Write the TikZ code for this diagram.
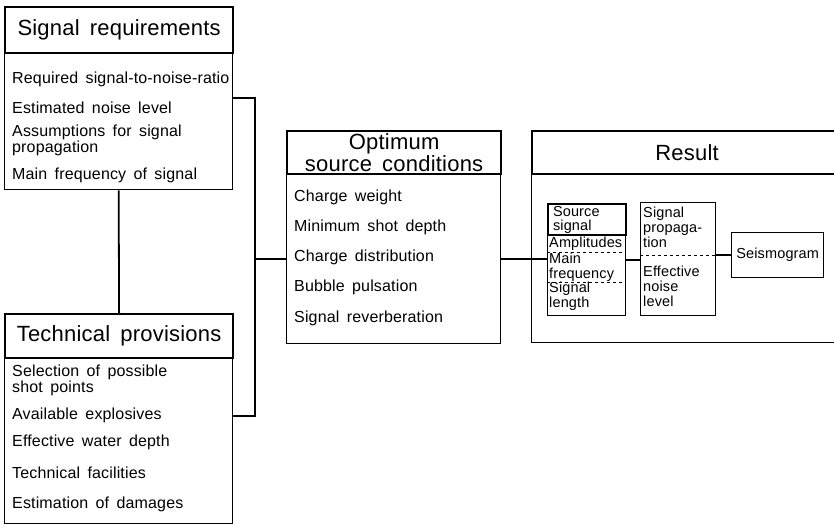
\documentclass[tikz,border=0pt]{standalone}
\usepackage{fontspec}
\setmainfont{Liberation Sans}[LetterSpace=1,WordSpace=1.6]
\usetikzlibrary{positioning}
\tikzset{
    head/.style={
           rectangle,
           draw=black, line width=2.2pt,
           inner sep=0pt,
           anchor=north west,
           align=center,
           font=\fontsize{22}{17}\selectfont,
           },
    panel/.style={
           rectangle,
           draw=black, line width=1.3pt,
           inner sep=0pt,
           anchor=north west,
           },
    entry/.style={
           anchor=west,
           inner sep=0pt,
           align=left,
           font=\fontsize{16}{15.5}\selectfont,},
    small/.style={
           anchor=west,
           inner sep=0pt,
           align=left,
           font=\fontsize{14.5}{15}\selectfont,},
    link/.style={
           line width=1.8pt,},
    sep/.style={
           dashed,
           line width=0.9pt,}
}
\begin{document}
\begin{tikzpicture}[x=1pt,y=-1pt]
\useasboundingbox (0,0) rectangle (834,525);
% SIGNAL REQUIREMENTS
\node[head, minimum width=228pt, minimum height=46pt] (REQHEAD) at (4,6) {Signal requirements};
\node[panel, minimum width=228pt, minimum height=137pt] (REQBODY) at (4,52) {};
\node[entry] (SNR) at (12,79) {Required signal-to-noise-ratio};
\node[entry] (NOISE) at (12,108) {Estimated noise level};
\node[entry] (ASSUME) at (12,140.5) {Assumptions for signal\\propagation};
\node[entry] (MAINFREQ) at (12,175) {Main frequency of signal};
% TECHNICAL PROVISIONS
\node[head, minimum width=228pt, minimum height=44pt] (TECHHEAD) at (4,313) {Technical provisions};
\node[panel, minimum width=228pt, minimum height=166pt] (TECHBODY) at (4,357) {};
\node[entry] (SHOTS) at (12,380.5) {Selection of possible\\shot points};
\node[entry] (EXPL) at (12,415) {Available explosives};
\node[entry] (WATER) at (12,442) {Effective water depth};
\node[entry] (FACIL) at (12,473) {Technical facilities};
\node[entry] (DAMAGE) at (12,504) {Estimation of damages};
% OPTIMUM SOURCE CONDITIONS
\node[head, minimum width=214pt, minimum height=43pt] (OPTHEAD) at (286,130) {Optimum\\source conditions};
\node[panel, minimum width=214pt, minimum height=170pt] (OPTBODY) at (286,173) {};
\node[entry] (WEIGHT) at (294,197) {Charge weight};
\node[entry] (DEPTH) at (294,227) {Minimum shot depth};
\node[entry] (DISTR) at (294,257) {Charge distribution};
\node[entry] (BUBBLE) at (294,287) {Bubble pulsation};
\node[entry] (REVERB) at (294,318) {Signal reverberation};
% RESULT (runs past the right edge)
\node[head, minimum width=310pt, minimum height=43pt] (RESHEAD) at (531,130) {Result};
\node[panel, minimum width=310pt, minimum height=169pt] (RESBODY) at (531,173) {};
% Source signal
\node[panel, minimum width=78pt, minimum height=112pt] (SRCBOX) at (547,203) {};
\node[head, line width=2pt, inner xsep=5pt, text width=68pt, minimum height=31pt,
      align=left, font=\fontsize{14.5}{14}\selectfont] (SRCHEAD) at (547,203) {Source\\signal};
\node[small] (AMPL) at (549,244) {Amplitudes};
\node[small] (FREQ) at (549,267) {Main\\frequency};
\node[small] (LENGTH) at (549,296) {Signal\\length};
\draw[sep] (SRCBOX.west |- 0,252) -- (SRCBOX.east |- 0,252);
\draw[sep] (SRCBOX.west |- 0,282) -- (SRCBOX.east |- 0,282);
% Signal propagation
\node[panel, minimum width=75pt, minimum height=113pt] (PROPBOX) at (640,202) {};
\node[small] (PROP) at (643,227) {Signal\\propaga-\\tion};
\node[small] (EFFNOISE) at (643,286) {Effective\\noise\\level};
\draw[sep] (PROPBOX.west |- 0,255) -- (PROPBOX.east |- 0,255);
% Seismogram
\node[panel, minimum width=92pt, minimum height=45pt, font=\fontsize{14.5}{15}\selectfont] (SEISBOX) at (731,232) {Seismogram};
% Draw lines on graph
\coordinate (BUSTOP) at (255,98);
\coordinate (BUSBOT) at (255,416);
\draw[link] (REQBODY.south) -- (TECHHEAD.north);
\draw[link] (REQBODY.east |- BUSTOP) -- (BUSTOP) -- (BUSBOT) -- (TECHBODY.east |- BUSBOT);
\draw[link] (BUSTOP |- OPTBODY.west) -- (OPTBODY.west);
\draw[link] (OPTBODY.east) -- (OPTBODY.east -| SRCBOX.west);
\draw[link] (SRCBOX.east) -- (SRCBOX.east -| PROPBOX.west);
\draw[link] (SEISBOX.west -| PROPBOX.east) -- (SEISBOX.west);
\end{tikzpicture}
\end{document}
